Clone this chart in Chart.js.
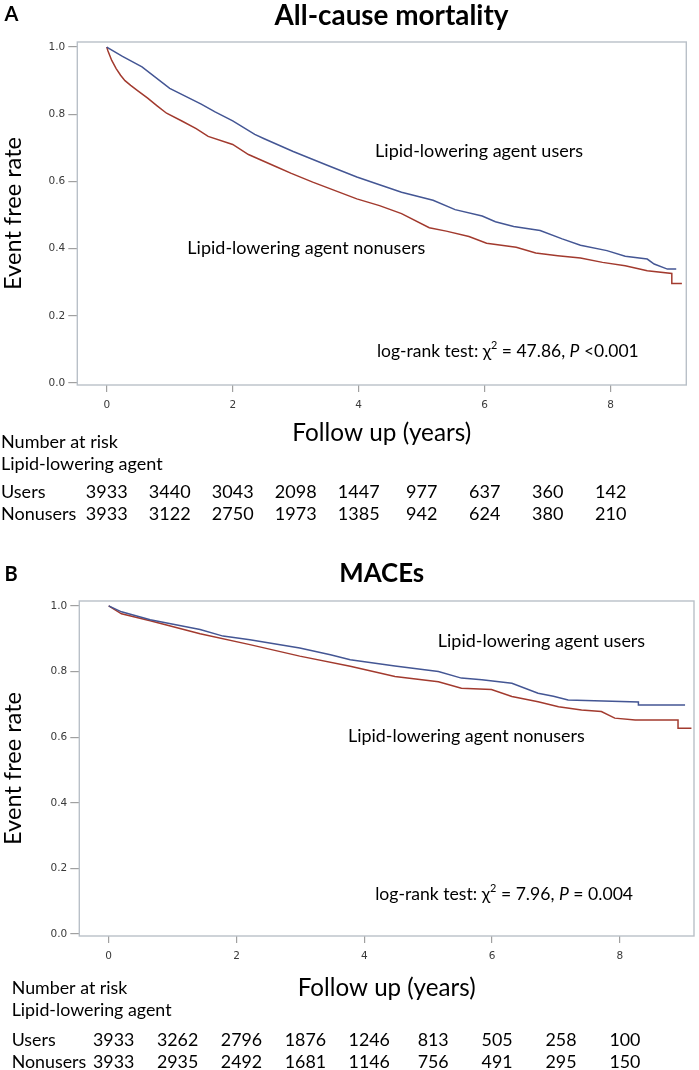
<!DOCTYPE html>
<html><head><meta charset="utf-8">
<script src="https://cdn.jsdelivr.net/npm/chart.js@4.4.1/dist/chart.umd.min.js"></script>
<style>
html,body{margin:0;padding:0;background:#fff;}
canvas{display:block;}
</style></head>
<body>
<canvas id="chartA" width="699" height="540" style="width:699px;height:540px"></canvas>
<canvas id="chartB" width="699" height="530" style="width:699px;height:530px"></canvas>
<script>
// ---------- data ----------
const xTickValues = [0, 2, 4, 6, 8];
const yTickValues = [0, 0.2, 0.4, 0.6, 0.8, 1.0];
const riskYears = [0, 1, 2, 3, 4, 5, 6, 7, 8];

// Panel A: all-cause mortality
const aUsersTime = [0, 0.25, 0.56, 1.0, 1.5, 1.72, 2.0, 2.35, 2.5, 2.96, 3.5, 3.97, 4.33, 4.68, 5.18, 5.53, 5.96, 6.17, 6.46, 6.88, 7.23, 7.52, 7.94, 8.23, 8.58, 8.69, 8.9, 9.04];
const aUsersSurv = [1.0, 0.972, 0.941, 0.877, 0.83, 0.807, 0.78, 0.74, 0.727, 0.689, 0.648, 0.613, 0.59, 0.568, 0.544, 0.516, 0.497, 0.48, 0.466, 0.454, 0.429, 0.41, 0.394, 0.377, 0.369, 0.354, 0.339, 0.339];
const aNonusersTime = [0, 0.02, 0.08, 0.15, 0.22, 0.29, 0.38, 0.5, 0.65, 0.8, 0.95, 1.2, 1.42, 1.61, 2.0, 2.25, 2.7, 2.93, 3.27, 3.97, 4.33, 4.68, 5.12, 5.39, 5.75, 6.03, 6.5, 6.81, 7.16, 7.52, 7.87, 8.23, 8.58, 8.97, 8.97, 9.13];
const aNonusersSurv = [1.0, 0.988, 0.96, 0.936, 0.916, 0.9, 0.886, 0.869, 0.848, 0.825, 0.803, 0.779, 0.757, 0.734, 0.71, 0.68, 0.643, 0.624, 0.598, 0.548, 0.528, 0.504, 0.462, 0.452, 0.436, 0.416, 0.404, 0.387, 0.379, 0.372, 0.359, 0.349, 0.334, 0.326, 0.296, 0.296];
const aRiskUsers = [3933, 3440, 3043, 2098, 1447, 977, 637, 360, 142];
const aRiskNonusers = [3933, 3122, 2750, 1973, 1385, 942, 624, 380, 210];

// Panel B: MACEs
const bUsersTime = [0, 0.2, 0.65, 1.43, 1.79, 2.21, 2.99, 3.47, 3.78, 4.48, 5.16, 5.52, 5.84, 6.31, 6.72, 6.96, 7.19, 7.6, 8.29, 8.29, 9.02];
const bUsersSurv = [1.0, 0.982, 0.958, 0.928, 0.908, 0.897, 0.872, 0.851, 0.836, 0.817, 0.80, 0.78, 0.775, 0.764, 0.734, 0.725, 0.713, 0.711, 0.707, 0.698, 0.698];
const bNonusersTime = [0, 0.2, 0.65, 1.43, 2.21, 2.99, 3.78, 4.48, 5.16, 5.52, 5.99, 6.31, 6.72, 7.04, 7.40, 7.71, 7.92, 8.24, 8.91, 8.91, 9.12];
const bNonusersSurv = [1.0, 0.976, 0.955, 0.915, 0.882, 0.847, 0.816, 0.785, 0.769, 0.749, 0.745, 0.724, 0.708, 0.693, 0.683, 0.678, 0.658, 0.652, 0.652, 0.627, 0.627];
const bRiskUsers = [3933, 3262, 2796, 1876, 1246, 813, 505, 258, 100];
const bRiskNonusers = [3933, 2935, 2492, 1681, 1146, 756, 491, 295, 150];

// ---------- helpers ----------
const CAL = 'Lato, "Open Sans", sans-serif';
const TICKFONT = '"DejaVu Sans", sans-serif';
const BLUE = '#445694', RED = '#A23A2E';
const mctx = document.createElement('canvas').getContext('2d');
function fit(text, width, style) {
  mctx.font = (style || '') + ' 100px ' + CAL;
  return 100 * width / mctx.measureText(text).width;
}
function toPoints(t, s) { return t.map((v, i) => ({ x: v, y: s[i] })); }

function logRankPieces(size, chi, pText) {
  return [
    { t: 'log-rank test: \u03c7', f: size + 'px ' + CAL, dy: 0 },
    { t: '2', f: (size * 0.62) + 'px ' + CAL, dy: -size * 0.33 },
    { t: ' = ' + chi + ', ', f: size + 'px ' + CAL, dy: 0 },
    { t: 'P', f: 'italic ' + size + 'px ' + CAL, dy: 0 },
    { t: pText, f: size + 'px ' + CAL, dy: 0 }
  ];
}
function piecesWidth(ctx, pieces) {
  let w = 0;
  pieces.forEach(p => { ctx.font = p.f; w += ctx.measureText(p.t).width; });
  return w;
}

const panels = [
  {
    id: 'chartA', letter: 'A', letterY: 15, title: 'All-cause mortality', titleX: 391.5, titleY: 16, titleW: 234,
    users: toPoints(aUsersTime, aUsersSurv), nonusers: toPoints(aNonusersTime, aNonusersSurv),
    xMin: -0.467, xMax: 9.2, yMin: -0.006, yMax: 1.015,
    pad: { top: 42, right: 12.7, left: 0, bottom: 0 }, yW: 77.3, xH: 155,
    xTitleOff: 107, xTitleW: 179, yTitleW: 153,
    ann: [
      { text: 'Lipid-lowering agent users', x: 4.26, y: 0.691, w: 208 },
      { text: 'Lipid-lowering agent nonusers', x: 1.28, y: 0.401, w: 238 }
    ],
    logrank: { x: 4.29, y: 0.093, w: 262, chi: '47.86', p: ' <0.001' },
    table: { labelX: 1, rows: [441.7, 464, 491.7, 514], numOff: 0, labelW: 117, riskU: aRiskUsers, riskN: aRiskNonusers }
  },
  {
    id: 'chartB', letter: 'B', letterY: 35, title: 'MACEs', titleX: 381.7, titleY: 33.3, titleW: 85,
    users: toPoints(bUsersTime, bUsersSurv), nonusers: toPoints(bNonusersTime, bNonusersSurv),
    xMin: -0.46, xMax: 9.16, yMin: -0.006, yMax: 1.015,
    pad: { top: 61, right: 5, left: 0, bottom: 0 }, yW: 79.3, xH: 134,
    xTitleOff: 81.7, xTitleW: 178, yTitleW: 153,
    ann: [
      { text: 'Lipid-lowering agent users', x: 5.15, y: 0.891, w: 207.5 },
      { text: 'Lipid-lowering agent nonusers', x: 3.745, y: 0.6015, w: 237 }
    ],
    logrank: { x: 4.17, y: 0.122, w: 258, chi: '7.96', p: ' = 0.004' },
    table: { labelX: 11.7, rows: [448, 470, 500, 522.7], numOff: 5, labelW: 115.7, riskU: bRiskUsers, riskN: bRiskNonusers }
  }
];

function makePlugin(cfg) {
  return {
    id: 'kmDecor',
    beforeDatasetsDraw(chart) {
      const { ctx, chartArea: a } = chart;
      ctx.save();
      ctx.strokeStyle = '#b9c0c8';
      ctx.lineWidth = 1.4;
      ctx.strokeRect(a.left, a.top, a.right - a.left, a.bottom - a.top);
      ctx.restore();
    },
    afterDraw(chart) {
      const { ctx } = chart;
      const xs = chart.scales.x, ys = chart.scales.y;
      ctx.save();
      ctx.fillStyle = '#000';
      ctx.textBaseline = 'middle';
      // panel letter
      ctx.textAlign = 'left';
      ctx.font = 'bold 20px ' + CAL;
      ctx.fillText(cfg.letter, 4.5, cfg.letterY);
      // title
      const ts = fit(cfg.title, cfg.titleW, 'bold');
      ctx.font = 'bold ' + ts + 'px ' + CAL;
      ctx.textAlign = 'center';
      ctx.fillText(cfg.title, cfg.titleX, cfg.titleY);
      // curve labels
      ctx.textAlign = 'left';
      cfg.ann.forEach(an => {
        const s = fit(an.text, an.w, '');
        ctx.font = s + 'px ' + CAL;
        ctx.fillText(an.text, xs.getPixelForValue(an.x), ys.getPixelForValue(an.y));
      });
      // log-rank text
      const lr = cfg.logrank;
      let pcs = logRankPieces(100, lr.chi, lr.p);
      const size = 100 * lr.w / piecesWidth(ctx, pcs);
      pcs = logRankPieces(size, lr.chi, lr.p);
      let px = xs.getPixelForValue(lr.x);
      const py = ys.getPixelForValue(lr.y);
      pcs.forEach(p => {
        ctx.font = p.f;
        ctx.fillText(p.t, px, py + p.dy);
        px += ctx.measureText(p.t).width;
      });
      // number at risk table
      const tb = cfg.table;
      const rs = fit('Number at risk', tb.labelW, '');
      ctx.font = rs + 'px ' + CAL;
      ctx.textAlign = 'left';
      ctx.fillText('Number at risk', tb.labelX, tb.rows[0]);
      ctx.fillText('Lipid-lowering agent', tb.labelX, tb.rows[1]);
      ctx.fillText('Users', tb.labelX, tb.rows[2]);
      ctx.fillText('Nonusers', tb.labelX, tb.rows[3]);
      ctx.textAlign = 'center';
      riskYears.forEach((yr, i) => {
        const cx = xs.getPixelForValue(yr) + tb.numOff;
        ctx.fillText(String(tb.riskU[i]), cx, tb.rows[2]);
        ctx.fillText(String(tb.riskN[i]), cx, tb.rows[3]);
      });
      ctx.restore();
    }
  };
}

function build(cfg) {
  const yTitleSize = fit('Event free rate', cfg.yTitleW, '');
  const xTitleSize = fit('Follow up (years)', cfg.xTitleW, '');
  new Chart(document.getElementById(cfg.id), {
    type: 'line',
    data: {
      datasets: [
        { label: 'Lipid-lowering agent users', data: cfg.users, borderColor: BLUE, borderWidth: 1.5, pointRadius: 0, tension: 0, fill: false },
        { label: 'Lipid-lowering agent nonusers', data: cfg.nonusers, borderColor: RED, borderWidth: 1.5, pointRadius: 0, tension: 0, fill: false }
      ]
    },
    options: {
      responsive: false,
      animation: false,
      devicePixelRatio: 1,
      layout: { padding: cfg.pad },
      plugins: { legend: { display: false }, tooltip: { enabled: false }, title: { display: false } },
      scales: {
        x: {
          type: 'linear', min: cfg.xMin, max: cfg.xMax,
          afterBuildTicks: s => { s.ticks = xTickValues.map(v => ({ value: v })); },
          afterFit: s => { s.height = cfg.xH; },
          border: { display: false },
          grid: { display: true, drawOnChartArea: false, drawTicks: true, tickLength: 7, color: '#a0a0a0', lineWidth: 1.2 },
          ticks: { font: { family: TICKFONT, size: 10.5 }, color: '#3a3a3a', padding: 7, maxRotation: 0, callback: v => String(v) },
          title: { display: true, text: 'Follow up (years)', color: '#000', font: { family: CAL, size: xTitleSize, lineHeight: 1 }, padding: { top: 0, bottom: cfg.xTitleOff - xTitleSize / 2 } }
        },
        y: {
          type: 'linear', min: cfg.yMin, max: cfg.yMax,
          afterBuildTicks: s => { s.ticks = yTickValues.map(v => ({ value: v })); },
          afterFit: s => { s.width = cfg.yW; },
          border: { display: false },
          grid: { display: true, drawOnChartArea: false, drawTicks: true, tickLength: 9, color: '#a0a0a0', lineWidth: 1.2 },
          ticks: { font: { family: TICKFONT, size: 10.5 }, color: '#3a3a3a', padding: 3, callback: v => Number(v).toFixed(1) },
          title: { display: true, text: 'Event free rate', color: '#000', font: { family: CAL, size: yTitleSize, lineHeight: 1 }, padding: { top: 13 - yTitleSize / 2, bottom: 0 } }
        }
      }
    },
    plugins: [makePlugin(cfg)]
  });
}
panels.forEach(build);
</script>
</body></html>
